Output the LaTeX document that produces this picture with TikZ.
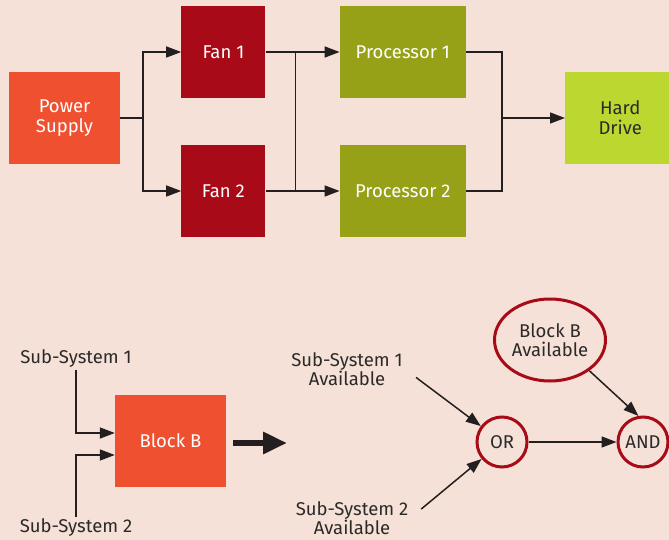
\documentclass[tikz,border=0pt]{standalone}
\usepackage{fontspec}
\setmainfont{Fira Sans}
\usepackage{tikz}
\usetikzlibrary{arrows.meta,positioning,shapes.geometric}
\definecolor{PageTint}{HTML}{F5E1D7}
\definecolor{SupplyOrange}{HTML}{EF5030}
\definecolor{FanRed}{HTML}{A80B17}
\definecolor{ProcOlive}{HTML}{97A117}
\definecolor{DriveLime}{HTML}{BDD731}
\definecolor{WireDark}{HTML}{231F20}
\definecolor{TextDark}{HTML}{2B2A29}

\begin{document}
\begin{tikzpicture}[x=1pt,y=1pt,
  node distance=61pt and 61pt,
  blk/.style={inner sep=0pt,align=center,font=\fontsize{18.5}{20}\selectfont,text=white},
  supply/.style={blk,fill=SupplyOrange,minimum width=111pt,minimum height=92pt},
  fan/.style={blk,fill=FanRed,minimum width=84pt,minimum height=92pt},
  proc/.style={blk,fill=ProcOlive,minimum width=126pt,minimum height=92pt},
  drive/.style={blk,fill=DriveLime,text=TextDark,minimum width=110pt,minimum height=92pt},
  lbl/.style={inner sep=2pt,align=center,text=TextDark,font=\fontsize{18.5}{19}\selectfont},
  gate/.style={circle,draw=FanRed,line width=3pt,minimum size=50pt,inner sep=0pt,text=TextDark,font=\fontsize{18.5}{19}\selectfont},
  wire/.style={line width=1.5pt,color=WireDark},
  arrow/.style={wire,-{Triangle[length=15pt,width=11pt]}},
  bigarrow/.style={line width=6pt,color=WireDark,-{Triangle[length=24pt,width=21pt]}}
]
\useasboundingbox[fill=PageTint] (0,0) rectangle (669,-540);

% reliability block diagram
\node[supply] (ps) at (64.5,-118) {Power\\Supply};
\node[fan,right=of ps,yshift=66pt] (fan1) {Fan 1};
\node[fan,right=of ps,yshift=-73pt] (fan2) {Fan 2};
\node[proc,right=74pt of fan1] (proc1) {Processor 1};
\node[proc,right=74pt of fan2] (proc2) {Processor 2};
\node[drive,right=99pt of proc1,yshift=-66pt] (hd) {Hard\\Drive};

\coordinate[right=23pt of ps.east] (psj);
\coordinate[right=30pt of fan1.east] (fj1);
\coordinate[right=30pt of fan2.east] (fj2);
\coordinate[right=36pt of proc1.east] (pj1);
\coordinate[right=36pt of proc2.east] (pj2);

\draw[wire] (ps.east) -- (psj);
\draw[arrow] (psj) |- (fan1);
\draw[arrow] (psj) |- (fan2);
\draw[wire] (fan1.east) -- (fj1) -- (fj2) -- (fan2.east);
\draw[arrow] (fj1) -- (proc1);
\draw[arrow] (fj2) -- (proc2);
\draw[wire] (proc1.east) -- (pj1) -- (pj2) -- (proc2.east);
\draw[arrow] (pj1 |- hd) -- (hd);

% block B and its fault tree
\node[supply] (bb) at (170.5,-441) {Block B};
\node[lbl] (ss1) at (76,-359) {Sub-System 1};
\node[lbl] (ss2) at (76,-528) {Sub-System 2};
\draw[arrow] (ss1.south) |- ([yshift=8pt]bb.west);
\draw[arrow] (ss2.north) |- ([yshift=-14pt]bb.west);
\coordinate (turn) at (287,-443);
\draw[bigarrow] ([shift={(7pt,-2pt)}]bb.east) -- (turn);

\node[gate] (or) at (502,-442) {OR};
\node[gate] (and) at (643,-442) {AND};
\node[gate,ellipse,minimum width=111pt,minimum height=82pt,align=center] (bba) at (550,-340) {Block B\\Available};
\node[lbl] (ss1a) at (347,-369) {Sub-System 1\\Available};
\node[lbl] (ss2a) at (352,-518) {Sub-System 2\\Available};
\draw[arrow,shorten <=14pt] (ss1a.east) -- (or);
\draw[arrow,shorten <=14pt] (ss2a.east) -- (or);
\draw[arrow] (or) -- (and);
\draw[arrow] (bba.-38) -- (and.100);
\end{tikzpicture}
\end{document}
